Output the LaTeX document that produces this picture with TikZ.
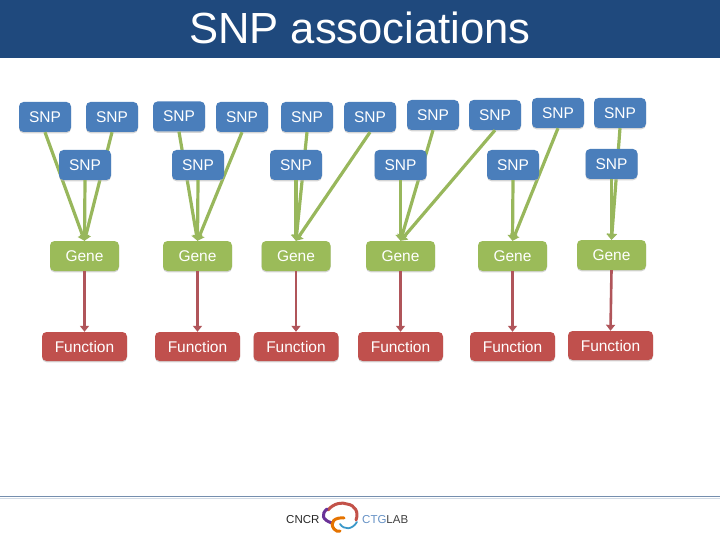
\documentclass[tikz,border=0pt]{standalone}
\usepackage{fontspec}
\setmainfont{Liberation Sans}
\usetikzlibrary{arrows.meta}
\definecolor{hdr}{HTML}{1F497D}
\definecolor{snpc}{HTML}{4A7EBB}
\definecolor{genec}{HTML}{9BBB59}
\definecolor{func}{HTML}{C0504D}
\definecolor{greenln}{HTML}{98B75C}
\definecolor{redln}{HTML}{B0555A}
\tikzset{
  basebox/.style={rounded corners=4.5pt,inner sep=0pt,text=white,font=\fontsize{15.5}{18}\selectfont,minimum height=30pt,
    preaction={draw=none,fill=black!30,opacity=.55,transform canvas={yshift=-1.3pt}}},
  snpbox/.style={basebox,fill=snpc,minimum width=52pt},
  genebox/.style={basebox,fill=genec,minimum width=69pt},
  funcbox/.style={basebox,fill=func,minimum width=85pt,minimum height=29pt},
  glink/.style={draw=greenln,line width=3.2pt,-{Triangle[length=6pt,width=10pt]}},
  rlink/.style={draw=redln,line width=2.6pt,-{Triangle[length=6pt,width=9pt]}},
}
\begin{document}
\begin{tikzpicture}[x=1pt,y=-1pt]
\useasboundingbox (0,0) rectangle (720,540);
\fill[hdr] (0,0) rectangle (720,58);
\node[text=white,font=\fontsize{43.6}{46}\selectfont,inner sep=0pt] (title) at (360,28) {SNP associations};
% top SNPs
\node[snpbox] (a1) at (45,117) {SNP};
\node[snpbox] (a2) at (112,117) {SNP};
\node[snpbox] (b1) at (179,116.5) {SNP};
\node[snpbox] (b2) at (242,117) {SNP};
\node[snpbox] (c1) at (307,117) {SNP};
\node[snpbox] (c2) at (370,117) {SNP};
\node[snpbox] (d1) at (433,115) {SNP};
\node[snpbox] (d2) at (495,115) {SNP};
\node[snpbox] (e1) at (558,113) {SNP};
\node[snpbox] (f1) at (620,113) {SNP};
% genes and functions
\foreach \n/\x/\gy/\fx/\fy in {1/84.5/256/84.5/346.5,2/197.5/256/197.5/346.5,3/296/256/296/346.5,4/400.5/256/400.5/346.5,5/512.5/256/512.5/346.5,6/611.5/255/610.5/345.5}{
  \node[genebox] (g\n) at (\x,\gy) {Gene};
  \node[funcbox] (h\n) at (\fx,\fy) {Function};
}
% middle SNP positions
\coordinate (m1pos) at (85,165);
\coordinate (m2pos) at (198,165);
\coordinate (m3pos) at (296,165);
\coordinate (m4pos) at (400.5,165);
\coordinate (m5pos) at (513,165);
\coordinate (m6pos) at (611.5,164);
% connectors, drawn under the middle SNPs
\draw[glink] (a1.south) -- (g1.north);
\draw[glink] (a2.south) -- (g1.north);
\draw[glink] (b1.south) -- (g2.north);
\draw[glink] (b2.south) -- (g2.north);
\draw[glink] (c1.south) -- (g3.north);
\draw[glink] (c2.south) -- (g3.north);
\draw[glink] (d1.south) -- (g4.north);
\draw[glink] (d2.south) -- (g4.north);
\draw[glink] (e1.south) -- (g5.north);
\draw[glink] (f1.south) -- (g6.north);
\foreach \n in {1,...,6}{
  \node[snpbox] (m\n) at (m\n pos) {SNP};
  \draw[glink] (m\n.south) -- (g\n.north);
  \draw[rlink] (g\n.south) -- (h\n.north);
}
% footer
\draw[line width=1.6pt,draw=hdr!62] (0,496.3) -- (720,496.3);
\draw[line width=.9pt,draw=hdr!20] (0,498.5) -- (720,498.5);
% logo
\node[anchor=west,inner sep=0pt,text=black!85,font=\fontsize{11.5}{14}\selectfont] (cncr) at (286,520) {CNCR};
\node[anchor=west,inner sep=0pt,font=\fontsize{11.5}{14}\selectfont] (ctg) at (362,520) {\textcolor{snpc!85}{CTG}\textcolor{black!75}{LAB}};
\draw[line width=3pt,draw=func!95!orange,line cap=round] (328,510) .. controls (334,503) and (342,502) .. (347,504) .. controls (355,505) and (359,512) .. (356,520);
\draw[line width=3pt,draw=violet!60!snpc,line cap=round] (327,509) .. controls (321,514) and (322,520) .. (332,523);
\draw[line width=3pt,draw=orange!90!black,line cap=round] (344,518) .. controls (335,517) and (329,522) .. (334,529) .. controls (336,531) and (338,532) .. (340,531);
\draw[line width=1.8pt,draw=snpc!80!cyan,line cap=round] (340,524) .. controls (344,530) and (352,530) .. (357,522);
\end{tikzpicture}
\end{document}
